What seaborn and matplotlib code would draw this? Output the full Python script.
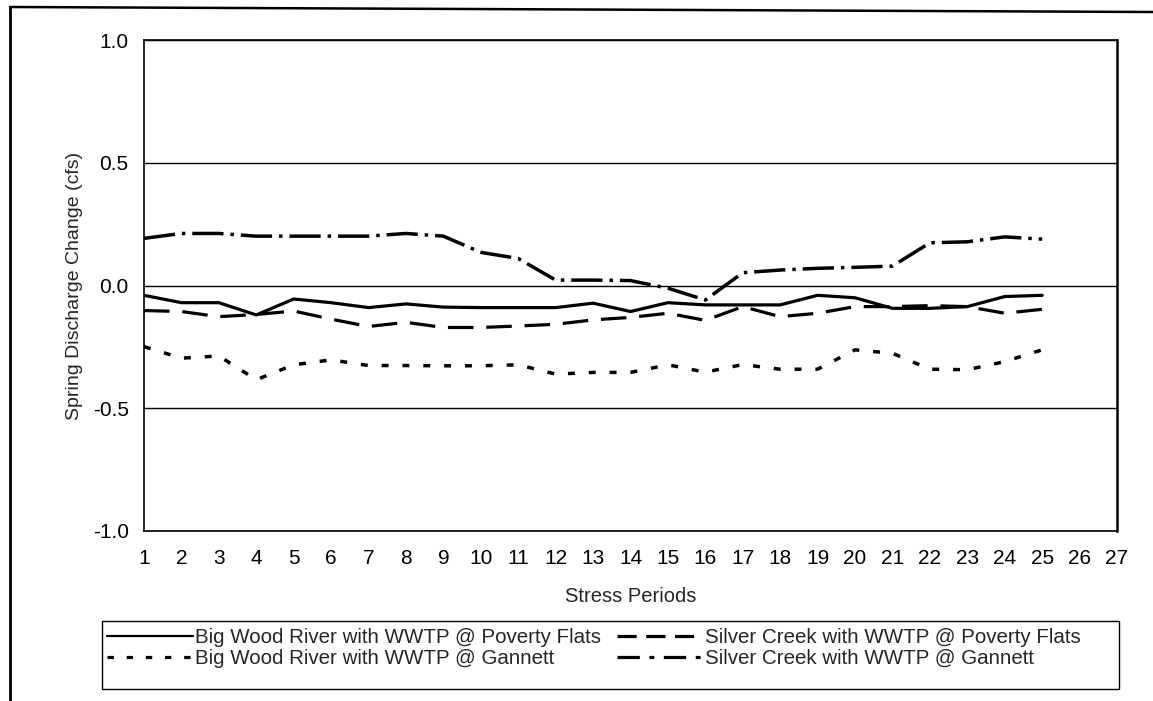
import numpy as np
import pandas as pd
import matplotlib
matplotlib.use("Agg")
import matplotlib.pyplot as plt
from matplotlib.lines import Line2D
from matplotlib.patches import Rectangle
import seaborn as sns

# Stress periods and spring discharge change (cfs) for each scenario
periods = list(range(1, 26))
bigwood_poverty = [-0.04, -0.07, -0.07, -0.12, -0.055, -0.07, -0.09, -0.075, -0.088, -0.09, -0.09,
                   -0.09, -0.072, -0.106, -0.07, -0.079, -0.079, -0.079, -0.04, -0.05, -0.093,
                   -0.093, -0.086, -0.045, -0.04]
silver_poverty = [-0.102, -0.106, -0.127, -0.118, -0.104, -0.137, -0.167, -0.15, -0.171, -0.171,
                  -0.165, -0.158, -0.14, -0.13, -0.113, -0.142, -0.086, -0.127, -0.113, -0.086,
                  -0.086, -0.082, -0.086, -0.113, -0.097]
bigwood_gannett = [-0.249, -0.296, -0.287, -0.384, -0.323, -0.303, -0.326, -0.326, -0.327, -0.327,
                   -0.323, -0.361, -0.354, -0.354, -0.323, -0.353, -0.322, -0.341, -0.341, -0.262,
                   -0.276, -0.341, -0.343, -0.31, -0.262]
silver_gannett = [0.192, 0.212, 0.212, 0.201, 0.201, 0.201, 0.201, 0.212, 0.201, 0.135, 0.11,
                  0.022, 0.022, 0.02, -0.011, -0.059, 0.052, 0.063, 0.07, 0.074, 0.079, 0.174,
                  0.178, 0.198, 0.189]

series_names = ["Big Wood River with WWTP @ Poverty Flats",
                "Silver Creek with WWTP @ Poverty Flats",
                "Big Wood River with WWTP @ Gannett",
                "Silver Creek with WWTP @ Gannett"]
series_values = [bigwood_poverty, silver_poverty, bigwood_gannett, silver_gannett]

x_ticks = list(range(1, 28))
y_ticks = [-1.0, -0.5, 0.0, 0.5, 1.0]
y_ticklabels = ["-1.0", "-0.5", "0.0", "0.5", "1.0"]

df = pd.concat(
    [pd.DataFrame({"period": periods, "change": vals, "series": name})
     for name, vals in zip(series_names, series_values)],
    ignore_index=True,
)

sns.set_style("white")
plt.rcParams["font.family"] = ["Liberation Sans", "DejaVu Sans"]
plt.rcParams["font.size"] = 14

fig = plt.figure(figsize=(11.53, 7.01), dpi=100)
W, H = 1153, 701
ax = fig.add_axes([144 / W, 1 - 531 / H, (1117 - 144) / W, (531 - 40) / H])

line_styles = {
    series_names[0]: "-",
    series_names[1]: (0, (8, 4)),
    series_names[2]: (0, (2, 4)),
    series_names[3]: (0, (9, 2, 1, 2)),
}
line_widths = {
    series_names[0]: 2.3,
    series_names[1]: 2.3,
    series_names[2]: 2.5,
    series_names[3]: 2.5,
}

for name in series_names:
    sub = df[df["series"] == name]
    sns.lineplot(data=sub, x="period", y="change", ax=ax, color="black",
                 linewidth=line_widths[name], linestyle=line_styles[name], legend=False)

ax.set_xlim(1, 27)
ax.set_ylim(-1, 1)
ax.set_xticks(x_ticks)
ax.set_xticklabels([str(t) for t in x_ticks])
ax.set_yticks(y_ticks)
ax.set_yticklabels(y_ticklabels)
ax.grid(axis="y", color="black", linewidth=1.0)
ax.grid(axis="x", visible=False)
for side in ["left", "bottom", "right", "top"]:
    ax.spines[side].set_visible(True)
    ax.spines[side].set_color("black")
    ax.spines[side].set_linewidth(1.2)
ax.spines["right"].set_linewidth(1.8)

ax.tick_params(axis="both", direction="inout", length=8, width=1, color="black",
               labelsize=15, labelcolor="black")
ax.tick_params(axis="y", pad=7)
ax.tick_params(axis="x", pad=9)

ax.set_xlabel("Stress Periods", fontsize=14.5, labelpad=14)
ax.set_ylabel("Spring Discharge Change (cfs)", fontsize=14, labelpad=7)

# Legend: two rows, two columns, inside a plain box
handles = [
    Line2D([], [], color="black", lw=1.6, linestyle="-"),
    Line2D([], [], color="black", lw=2.3, linestyle=(0, (2, 4))),
    Line2D([], [], color="black", lw=2.3, linestyle=(0, (6, 3))),
    Line2D([], [], color="black", lw=2.3, linestyle=(0, (7, 3, 1.5, 3))),
]
labels = [series_names[0], series_names[2], series_names[1], series_names[3]]
leg = fig.legend(handles, labels, ncol=2, loc="upper left",
                 bbox_to_anchor=(107 / W, 1 - 628 / H),
                 fontsize=14.8, frameon=False,
                 handlelength=4.2, handletextpad=0.1, columnspacing=0.75,
                 borderpad=0, labelspacing=0.1, borderaxespad=0)
fig.add_artist(Rectangle((102 / W, 1 - 689 / H), (1119 - 102) / W, (689 - 621) / H,
                         transform=fig.transFigure, fill=False, edgecolor="black", lw=1.0))

# Outer chart border (left and top edges)
fig.add_artist(Line2D([10 / W, 10 / W], [0, 1 - 7 / H], transform=fig.transFigure,
                      color="black", lw=2.0))
fig.add_artist(Line2D([10 / W, 1], [1 - 7 / H, 1 - 12 / H], transform=fig.transFigure,
                      color="black", lw=1.8))

fig.savefig("out.png", dpi=100, facecolor="white")
